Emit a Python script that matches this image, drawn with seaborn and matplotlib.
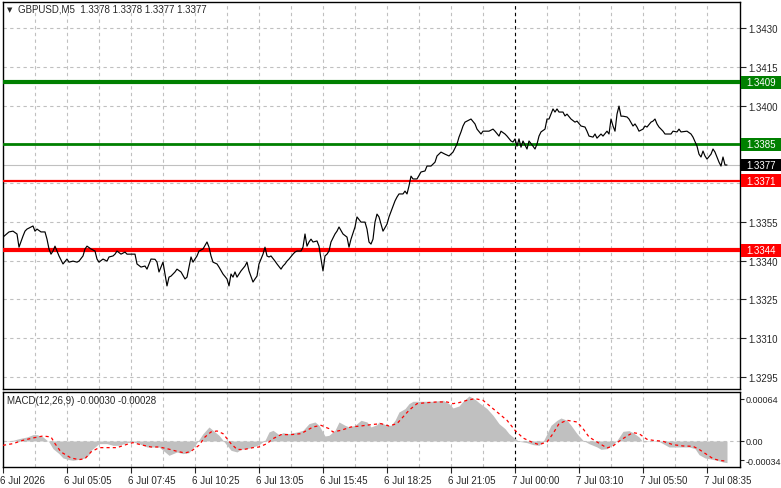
import matplotlib
matplotlib.use("Agg")
import matplotlib.pyplot as plt
import seaborn as sns
from matplotlib.patches import Rectangle
from matplotlib.transforms import blended_transform_factory, ScaledTranslation

# ---- data (bar index = 5-minute bars) ----
price_idx = [0, 3, 5, 7, 8, 10, 11, 12, 15, 16, 17, 19, 21, 22, 23, 24, 25, 26, 27, 28,
             30, 32, 33, 35, 37, 38, 40, 41, 42, 44, 46, 47, 48, 50, 52, 53, 55, 56, 57, 59,
             61, 62, 66, 67, 69, 71, 72, 74, 76, 77, 78, 80, 81, 82, 83, 84, 86, 87, 89, 91,
             92, 93, 94, 95, 97, 98, 100, 102, 103, 104, 105, 107, 108, 110, 112, 113, 114, 115, 116, 117,
             119, 121, 122, 123, 125, 126, 127, 128, 130, 131, 132, 133, 134, 136, 137, 139, 140, 141, 142, 143,
             145, 146, 147, 149, 150, 151, 152, 153, 154, 155, 157, 158, 159, 160, 161, 162, 163, 164, 166, 167,
             168, 170, 172, 173, 174, 176, 177, 179, 181, 182, 183, 184, 185, 186, 187, 188, 190, 192, 193, 195,
             196, 197, 198, 200, 201, 202, 203, 204, 205, 207, 209, 211, 212, 214, 216, 217, 219, 221, 223, 225,
             227, 228, 229, 230, 231, 232, 234, 236, 237, 239, 240, 243, 245, 246, 248, 249, 251, 252, 254, 255,
             256, 257, 258, 259, 260, 262, 263, 265, 266, 267, 268, 269, 271, 272, 273, 275, 276, 277, 278, 280,
             281, 282, 284, 286, 287, 289, 291, 292, 293, 295, 296, 297, 299, 300, 302, 303, 304, 305, 306, 307,
             308, 309, 310, 312, 313, 315, 316, 317, 318, 320, 321, 322, 324, 325, 326, 327, 328, 330, 331, 334,
             335, 337, 338, 339, 342, 344, 345, 347, 348, 349, 350, 351, 352, 354, 355, 356, 357, 358, 359, 360,
             361, 362]
price = [1.33491, 1.33511, 1.33514, 1.33503, 1.33452, 1.33495, 1.33514, 1.33522, 1.33534, 1.33514,
         1.33522, 1.33511, 1.33511, 1.33483, 1.33445, 1.33425, 1.33437, 1.33456, 1.33437, 1.33418,
         1.33387, 1.33406, 1.33394, 1.33398, 1.33394, 1.33398, 1.33418, 1.33445, 1.33456, 1.33445,
         1.33437, 1.33406, 1.33394, 1.33406, 1.33398, 1.33414, 1.33418, 1.33425, 1.33437, 1.33425,
         1.33433, 1.33425, 1.33425, 1.33387, 1.33375, 1.33379, 1.33367, 1.33406, 1.33405, 1.33394,
         1.33356, 1.33394, 1.33348, 1.33302, 1.33336, 1.33340, 1.33356, 1.33367, 1.33356, 1.33329,
         1.33336, 1.33375, 1.33414, 1.33394, 1.33418, 1.33437, 1.33445, 1.33472, 1.33452, 1.33418,
         1.33394, 1.33387, 1.33375, 1.33348, 1.33329, 1.33302, 1.33348, 1.33336, 1.33356, 1.33336,
         1.33360, 1.33379, 1.33394, 1.33360, 1.33317, 1.33329, 1.33340, 1.33387, 1.33425, 1.33452,
         1.33418, 1.33414, 1.33418, 1.33398, 1.33387, 1.33367, 1.33379, 1.33387, 1.33398, 1.33406,
         1.33425, 1.33433, 1.33437, 1.33437, 1.33452, 1.33503, 1.33456, 1.33472, 1.33483, 1.33472,
         1.33476, 1.33456, 1.33406, 1.33360, 1.33418, 1.33425, 1.33437, 1.33472, 1.33503, 1.33514,
         1.33530, 1.33503, 1.33491, 1.33452, 1.33483, 1.33530, 1.33569, 1.33549, 1.33549, 1.33522,
         1.33472, 1.33464, 1.33483, 1.33549, 1.33580, 1.33569, 1.33514, 1.33541, 1.33569, 1.33611,
         1.33631, 1.33646, 1.33658, 1.33658, 1.33669, 1.33658, 1.33689, 1.33727, 1.33716, 1.33716,
         1.33743, 1.33747, 1.33766, 1.33766, 1.33781, 1.33805, 1.33820, 1.33812, 1.33805, 1.33820,
         1.33851, 1.33878, 1.33898, 1.33921, 1.33936, 1.33940, 1.33948, 1.33929, 1.33909, 1.33890,
         1.33901, 1.33901, 1.33909, 1.33901, 1.33882, 1.33901, 1.33890, 1.33882, 1.33863, 1.33859,
         1.33871, 1.33843, 1.33871, 1.33839, 1.33863, 1.33832, 1.33863, 1.33843, 1.33832, 1.33851,
         1.33882, 1.33898, 1.33909, 1.33948, 1.33948, 1.33987, 1.33975, 1.33987, 1.33975, 1.33975,
         1.33960, 1.33967, 1.33948, 1.33936, 1.33940, 1.33921, 1.33917, 1.33901, 1.33882, 1.33878,
         1.33890, 1.33874, 1.33890, 1.33882, 1.33901, 1.33890, 1.33948, 1.33921, 1.33901, 1.33967,
         1.33998, 1.33959, 1.33959, 1.33956, 1.33948, 1.33921, 1.33929, 1.33917, 1.33901, 1.33909,
         1.33921, 1.33917, 1.33936, 1.33940, 1.33948, 1.33929, 1.33917, 1.33901, 1.33890, 1.33890,
         1.33901, 1.33898, 1.33909, 1.33898, 1.33901, 1.33890, 1.33878, 1.33843, 1.33812, 1.33801,
         1.33824, 1.33805, 1.33793, 1.33812, 1.33832, 1.33820, 1.33801, 1.33781, 1.33766, 1.33801,
         1.33770, 1.33770]

hist_idx = [0, 5, 8, 12, 15, 17, 20, 23, 25, 28, 30, 33, 35, 38, 41, 43, 44, 47, 48, 52,
            55, 58, 62, 65, 68, 72, 78, 82, 83, 87, 90, 93, 96, 98, 100, 103, 105, 108, 110, 112,
            114, 117, 119, 122, 125, 128, 131, 133, 135, 138, 140, 143, 147, 150, 153, 156, 158, 161, 163, 166,
            168, 171, 173, 176, 179, 182, 184, 187, 188, 192, 194, 196, 198, 201, 203, 205, 210, 215, 220, 223,
            225, 228, 230, 233, 236, 238, 242, 245, 248, 251, 253, 256, 258, 262, 265, 268, 270, 272, 274, 277,
            279, 282, 284, 287, 290, 293, 297, 299, 302, 305, 307, 310, 313, 315, 318, 320, 323, 327, 330, 333,
            340, 343, 346, 348, 351, 353, 357, 360, 362]
macd_hist = [0.0, 0.0000087, 0.0000305, 0.0000523, 0.0000828, 0.0000828, 0.0000523, -0.0000131, -0.0001002, -0.0001655,
             -0.0002222, -0.000244, -0.0002526, -0.0002396, -0.0002222, -0.0001786, -0.000122, -0.0000566, -0.0000348, -0.0000348,
             -0.0000566, -0.0000566, -0.0000218, -0.0000131, -0.0000348, -0.0000784, -0.0000784, -0.0001655, -0.0001873, -0.0001437,
             -0.0001655, -0.0001525, -0.0000566, 0.0000174, 0.0000958, 0.000183, 0.0001394, 0.0000741, 0.0000087, -0.0000566,
             -0.000122, -0.0001437, -0.0001089, -0.0001002, -0.0000784, -0.0000479, 0.0000087, 0.0001176, 0.0001394, 0.0000828,
             0.0001089, 0.0000958, 0.0001176, 0.0001394, 0.0002265, 0.0002483, 0.0002047, 0.0000653, 0.0000741, 0.0001394,
             0.0002483, 0.0002047, 0.000183, 0.0002047, 0.0002701, 0.0002483, 0.000183, 0.0002134, 0.0002483, 0.0002047,
             0.0002047, 0.0002701, 0.000379, 0.0004225, 0.0004879, 0.0005184, 0.0005184, 0.0005184, 0.0005314, 0.0004879,
             0.0004312, 0.0004574, 0.0005184, 0.0005881, 0.0005445, 0.0005009, 0.0004225, 0.0003354, 0.0002265, 0.0001612,
             0.0000958, 0.0000305, -0.0000044, -0.0000218, -0.0000479, -0.0000566, -0.0000131, 0.0000958, 0.0002047, 0.0002701,
             0.0003006, 0.0002701, 0.0002047, 0.0000958, 0.0000087, -0.0000348, -0.0000784, -0.0001089, -0.0001002, -0.0000479,
             0.0000087, 0.0001263, 0.000135, 0.0001089, 0.0000523, -0.0000131, -0.0000044, 0.0000087, -0.0000348, -0.0000784,
             -0.0000784, -0.0000784, -0.0001002, -0.0001786, -0.0002222, -0.0002309, -0.0002526, -0.0002744, -0.0002831]

signal_idx = [0, 5, 10, 15, 20, 24, 26, 29, 34, 38, 41, 44, 48, 52, 57, 62, 65, 68, 74, 78,
              82, 87, 91, 94, 98, 101, 104, 107, 110, 114, 117, 120, 125, 128, 132, 135, 139, 144, 149, 152,
              155, 159, 163, 165, 169, 174, 179, 184, 189, 193, 197, 200, 203, 207, 212, 217, 222, 225, 228, 232,
              236, 240, 243, 247, 252, 256, 260, 265, 268, 272, 275, 278, 282, 287, 290, 293, 297, 302, 305, 308,
              312, 315, 318, 322, 325, 330, 335, 340, 345, 348, 352, 355, 358, 361]
macd_signal = [-0.0000566, -0.0000348, 0.0000087, 0.0000392, 0.0000653, 0.0000523, -0.0000348, -0.0001437, -0.0002222, -0.000244,
               -0.0002309, -0.0001437, -0.0000871, -0.0000871, -0.0000871, -0.0000436, -0.0000218, -0.0000436, -0.0000784, -0.0000784,
               -0.0001002, -0.000135, -0.0001568, -0.000135, -0.0000566, 0.0000523, 0.0001176, 0.0001307, 0.0000958, -0.0000348,
               -0.0001089, -0.0001133, -0.0000871, -0.0000784, -0.0000348, 0.0000305, 0.0000828, 0.0000828, 0.0000958, 0.0001394,
               0.000183, 0.0002047, 0.0001612, 0.0001176, 0.0001394, 0.000183, 0.000196, 0.0002134, 0.0002265, 0.000196,
               0.0002265, 0.0003136, 0.0004008, 0.0004879, 0.0005009, 0.0005097, 0.0005097, 0.0004879, 0.0005009, 0.0005314,
               0.0005532, 0.0005314, 0.0004661, 0.000379, 0.0002701, 0.0001394, 0.0000392, -0.0000218, -0.0000479, -0.0000131,
               0.0000958, 0.0002265, 0.0002701, 0.0002483, 0.0001612, 0.0000523, -0.0000131, -0.0000915, -0.0000653, -0.0000044,
               0.0000653, 0.0001089, 0.0000958, 0.0000218, 0.0000087, -0.0000044, -0.0000479, -0.0000653, -0.0000697, -0.0001089,
               -0.0001786, -0.0002309, -0.0002526, -0.0002614]

x_tick_pos = [0, 32, 64, 96, 128, 160, 192, 224, 256, 288, 320, 352]
x_tick_labels = ["6 Jul 2026", "6 Jul 05:05", "6 Jul 07:45", "6 Jul 10:25", "6 Jul 13:05", "6 Jul 15:45",
                 "6 Jul 18:25", "6 Jul 21:05", "7 Jul 00:00", "7 Jul 03:10", "7 Jul 05:50", "7 Jul 08:35"]
price_ticks = [1.3430, 1.3415, 1.3400, 1.3385, 1.3370, 1.3355, 1.3340, 1.3325, 1.3310, 1.3295]
# labels hidden behind the coloured level boxes are left blank
price_tick_labels = ["1.3430", "1.3415", "1.3400", "", "", "1.3355", "1.3340", "1.3325", "1.3310", "1.3295"]

levels = [1.3409, 1.3385, 1.3371, 1.3344]
level_colors = ["#008000", "#008000", "#ff0000", "#ff0000"]
level_widths = [3.0, 2.0, 1.6, 3.0]
last_price = 1.3377
day_break = 256

title = "GBPUSD,M5  1.3378 1.3378 1.3377 1.3377"
macd_title = "MACD(12,26,9) -0.00030 -0.00028"

# ---- style ----
sns.set_style("white")
plt.rcParams["font.family"] = ["Liberation Sans", "DejaVu Sans"]
plt.rcParams["font.size"] = 7

W, H = 781, 489
fig = plt.figure(figsize=(W / 100, H / 100), dpi=100)
fig.patch.set_facecolor("white")

ax = fig.add_axes([3 / W, 1 - 390 / H, 737 / W, 387 / H])
ax2 = fig.add_axes([3 / W, 1 - 468 / H, 737 / W, 75 / H])

grid_kw = dict(color="#c0c0c0", linestyle=(0, (3, 3)), linewidth=0.8, zorder=0)

for a in (ax, ax2):
    a.set_xlim(0, 368.5)
    for s in a.spines.values():
        s.set_color("black")
        s.set_linewidth(1.0)
    a.set_facecolor("white")
    for gx in range(16, 368, 16):
        a.axvline(gx, **grid_kw)
    a.axvline(day_break, color="black", linestyle=(0, (3, 3)), linewidth=0.8, zorder=1)

# main price panel
ax.set_ylim(1.32903, 1.34401)
for p in price_ticks:
    ax.axhline(p, **grid_kw)
ax.axhline(last_price, color="#c0c0c0", linewidth=0.8, zorder=1)
for lv, c, lw in zip(levels, level_colors, level_widths):
    ax.axhline(lv, color=c, linewidth=lw, zorder=3)

sns.lineplot(x=price_idx, y=price, ax=ax, color="black", linewidth=0.85, zorder=4)

ax.set_xticks(x_tick_pos)
ax.set_xticklabels([])
ax.tick_params(axis="x", length=0)
ax.yaxis.tick_right()
ax.set_yticks(price_ticks)
ax.set_yticklabels(price_tick_labels)
ax.tick_params(axis="y", direction="out", length=4, width=0.8, pad=2, labelsize=7, right=True, left=False)
ax.set_xlabel("")
ax.set_ylabel("")

# coloured price labels on the right
trans = blended_transform_factory(ax.transAxes, ax.transData)
box_h = 0.00025
box_items = [(1.3409, "#008000"), (1.3385, "#008000"), (last_price, "#000000"), (1.3371, "#ff0000"), (1.3344, "#ff0000")]
for lv, c in box_items:
    ax.add_patch(Rectangle((1.0 + 1 / 737, lv - box_h), 41 / 737, 2 * box_h, transform=trans,
                           facecolor=c, edgecolor="none", clip_on=False, zorder=8))
    ax.text(1.0 + 6 / 737, lv, f"{lv:.4f}", transform=trans, color="white", fontsize=7,
            va="center", ha="left", clip_on=False, zorder=9)

# MACD panel
ax2.set_ylim(-0.00034, 0.00064)
ax2.axhline(0, **grid_kw)
ax2.fill_between(hist_idx, 0, macd_hist, color="#c0c0c0", linewidth=0, zorder=2)
sns.lineplot(x=signal_idx, y=macd_signal, ax=ax2, color="#ff0000", linewidth=0.9,
             linestyle=(0, (2.5, 2.5)), zorder=3)
ax2.yaxis.tick_right()
ax2.set_yticks([0.00055, 0.0, -0.00025])
ax2.set_yticklabels(["0.00064", "0.00", "-0.00034"])
ax2.tick_params(axis="y", direction="out", length=3, width=0.8, pad=1, labelsize=6.5, right=True, left=False)
ax2.set_xticks(x_tick_pos)
ax2.set_xticklabels(x_tick_labels)
ax2.tick_params(axis="x", direction="out", length=4, width=0.8, pad=2, labelsize=7, bottom=True)
for lbl in ax2.get_xticklabels():
    lbl.set_horizontalalignment("left")
    lbl.set_transform(lbl.get_transform() + ScaledTranslation(-3 / 100, 0, fig.dpi_scale_trans))
ax2.set_xlabel("")
ax2.set_ylabel("")

# header texts
fig.text(7 / W, 1 - 10 / H, "\u25bc", fontsize=5, va="center", ha="left", family=["DejaVu Sans"])
fig.text(18 / W, 1 - 10 / H, title, fontsize=7, va="center", ha="left")
fig.text(7 / W, 1 - 401 / H, macd_title, fontsize=7, va="center", ha="left")

fig.savefig("out.png", dpi=100, facecolor="white")
